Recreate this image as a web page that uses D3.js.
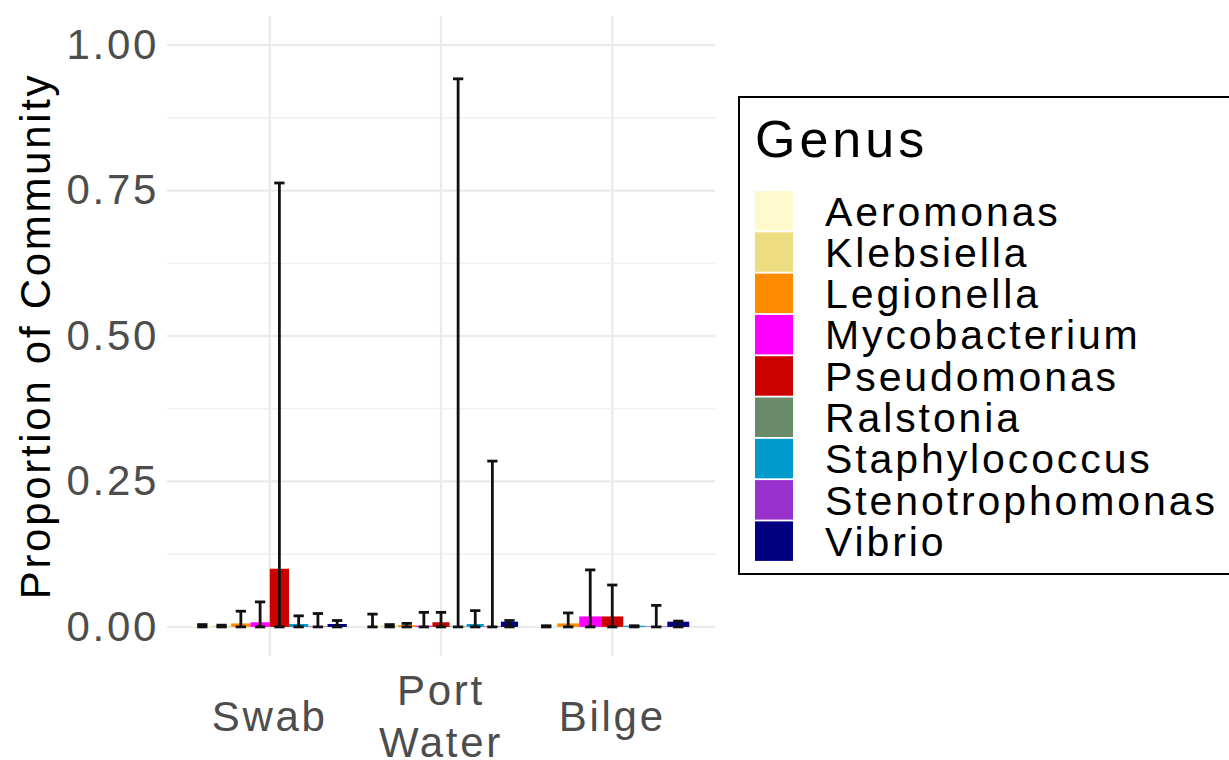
<!DOCTYPE html>
<html><head><meta charset="utf-8">
<script src="https://cdn.jsdelivr.net/npm/d3@7"></script>
<style>
body{margin:0;background:#fff;}
text{font-family:"Liberation Sans",Arial,sans-serif;}
</style></head>
<body>
<svg id="chart" width="1229" height="760"></svg>
<script>
const sites = ["Swab", "Port\nWater", "Bilge"];
const genera = ["Aeromonas","Klebsiella","Legionella","Mycobacterium","Pseudomonas","Ralstonia","Staphylococcus","Stenotrophomonas","Vibrio"];
const colors = ["#FFFACD","#EEDC82","#FF8C00","#FF00FF","#CD0000","#698B69","#009ACD","#9932CC","#000080"];
// mean proportion per genus, for each site (null = genus absent)
const meanSwab  = [0.002, 0.002, 0.006, 0.008, 0.100, null,  0.005, 0.001, 0.005];
const meanPort  = [0.001, 0.002, 0.003, 0.002, 0.008, 0.001, 0.005, 0.001, 0.009];
const meanBilge = [0.001, null,  0.006, 0.018, 0.018, null,  0.002, 0.001, 0.009];
// error bar upper ends
const upperSwab  = [0.004, 0.003, 0.027, 0.043, 0.763, null,  0.019, 0.023, 0.011];
const upperPort  = [0.022, 0.004, 0.006, 0.025, 0.025, 0.942, 0.028, 0.285, 0.011];
const upperBilge = [0.002, null,  0.024, 0.098, 0.072, null,  0.002, 0.037, 0.010];
// error bar lower ends
const lowerSwab  = [0, 0, 0, 0, 0, null, 0, 0, 0];
const lowerPort  = [0, 0, 0, 0, 0, 0, 0, 0, 0];
const lowerBilge = [0, null, 0, 0, 0, null, 0, 0, 0];
const yTicks = [0, 0.25, 0.5, 0.75, 1.0];
const yMinor = [0.125, 0.375, 0.625, 0.875];

const means = [meanSwab, meanPort, meanBilge];
const uppers = [upperSwab, upperPort, upperBilge];
const lowers = [lowerSwab, lowerPort, lowerBilge];

const svg = d3.select("#chart");
const panel = {left:167, right:715, top:16, bottom:656};
const ls = "2.7px";

const x = d3.scalePoint().domain(sites).range([panel.left, panel.right]).padding(0.6);
const step = x.step();
const y = d3.scaleLinear().domain([-0.05, 1.05]).range([panel.bottom, panel.top]);

// grid
const g = svg.append("g");
g.selectAll(".minor").data(yMinor).join("line")
  .attr("x1", panel.left).attr("x2", panel.right)
  .attr("y1", d=>y(d)).attr("y2", d=>y(d))
  .attr("stroke", "#EBEBEB").attr("stroke-width", 1.2);
g.selectAll(".major").data(yTicks).join("line")
  .attr("x1", panel.left).attr("x2", panel.right)
  .attr("y1", d=>y(d)).attr("y2", d=>y(d))
  .attr("stroke", "#EBEBEB").attr("stroke-width", 2.3);
g.selectAll(".vmajor").data(sites).join("line")
  .attr("x1", d=>x(d)).attr("x2", d=>x(d))
  .attr("y1", panel.top).attr("y2", panel.bottom)
  .attr("stroke", "#EBEBEB").attr("stroke-width", 2.3);

// y axis
const yAxis = d3.axisLeft(y).tickValues(yTicks).tickFormat(d3.format(".2f")).tickSize(0).tickPadding(8);
const ya = svg.append("g").attr("transform", `translate(${panel.left},0)`).call(yAxis);
ya.select(".domain").remove();
ya.selectAll("text").attr("font-size", 42).attr("fill", "#4D4D4D")
  .style("letter-spacing", ls).attr("font-family", "Liberation Sans, Arial, sans-serif");

// x axis labels
const xa = svg.append("g");
sites.forEach(s => {
  const lines = s.split("\n");
  const lh = 52;
  const c = 731 - (lines.length-1)*lh/2;
  const t = xa.append("text").attr("text-anchor","middle").attr("font-size",42)
    .attr("fill","#4D4D4D").style("letter-spacing", ls);
  lines.forEach((l,i)=>{
    t.append("tspan").attr("x", x(s)).attr("y", c + i*lh).text(l);
  });
});

// y title
svg.append("text").attr("transform", `translate(50,${(panel.top+panel.bottom)/2}) rotate(-90)`)
  .attr("text-anchor","middle").attr("font-size",42).attr("fill","#000")
  .style("letter-spacing", ls).text("Proportion of Community");

// bars
const bars = svg.append("g");
const errs = svg.append("g");
sites.forEach((s, si) => {
  const present = genera.filter((gname, gi) => means[si][gi] !== null);
  const inner = d3.scaleBand().domain(present)
    .range([x(s) - 0.45*step, x(s) + 0.45*step]).padding(0);
  const rows = present.map(gname => {
    const gi = genera.indexOf(gname);
    return {g:gname, gi, m:means[si][gi], u:uppers[si][gi], l:lowers[si][gi]};
  });
  bars.selectAll(null).data(rows).join("rect")
    .attr("x", d=>inner(d.g)).attr("width", inner.bandwidth())
    .attr("y", d=>y(d.m)).attr("height", d=>y(0)-y(d.m))
    .attr("fill", d=>colors[d.gi]);
  const cw = 0.06*step;
  const cx = d => inner(d.g)+inner.bandwidth()/2;
  const eg = errs.selectAll(null).data(rows).join("g")
    .attr("stroke","#111").attr("stroke-width",2.8);
  eg.append("line").attr("x1", cx).attr("x2", cx)
    .attr("y1", d=>y(d.l)).attr("y2", d=>y(d.u));
  eg.append("line").attr("x1", d=>cx(d)-cw/2).attr("x2", d=>cx(d)+cw/2)
    .attr("y1", d=>y(d.u)).attr("y2", d=>y(d.u));
  eg.append("line").attr("x1", d=>cx(d)-cw/2).attr("x2", d=>cx(d)+cw/2)
    .attr("y1", d=>y(d.l)).attr("y2", d=>y(d.l));
});

// legend
const lg = svg.append("g");
lg.append("rect").attr("x",739).attr("y",97).attr("width",500).attr("height",477)
  .attr("fill","#fff").attr("stroke","#000").attr("stroke-width",2);
lg.append("text").attr("x",755).attr("y",157).attr("font-size",52).attr("fill","#000")
  .style("letter-spacing", "4px").text("Genus");
const rowH = 41.3;
genera.forEach((gname, i) => {
  const yy = 191 + i*rowH;
  lg.append("rect").attr("x",755).attr("y",yy).attr("width",38).attr("height",39.5)
    .attr("fill", colors[i]);
  lg.append("text").attr("x",825).attr("y",yy+19.75).attr("dy","0.36em")
    .attr("font-size",41).attr("fill","#000").style("letter-spacing", "2.9px").text(gname);
});
</script>
</body></html>
